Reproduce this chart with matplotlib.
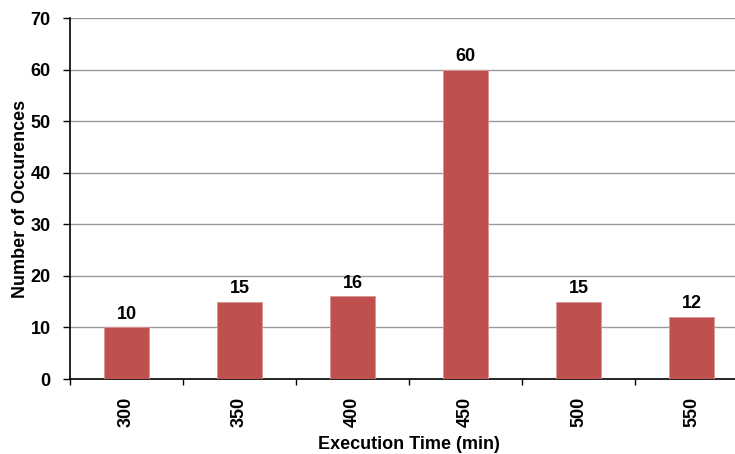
import matplotlib.pyplot as plt
import numpy as np

plt.rcParams['font.family'] = ['Liberation Sans', 'DejaVu Sans']
plt.rcParams['font.weight'] = 'bold'

# execution time histogram
times = ['300', '350', '400', '450', '500', '550']
counts = [10, 15, 16, 60, 15, 12]

fig = plt.figure(figsize=(7.35, 4.54), dpi=100)
# axes runs a little past the right edge of the figure
ax = fig.add_axes([70/735, 1 - 379/454, 678/735, 361/454])

x = np.arange(len(times))
bars = ax.bar(x, counts, width=0.4, color='#C0504D', edgecolor='#D99694',
              linewidth=0.6, zorder=3)
for b, v in zip(bars, counts):
    ax.text(b.get_x() + b.get_width()/2, v + 0.9, str(v), ha='center',
            va='bottom', fontsize=13, fontweight='bold')

ax.set_xlim(-0.5, len(times) - 0.5)
ax.set_ylim(0, 70)
ax.set_yticks(range(0, 71, 10))
ax.yaxis.grid(True, color='#999999', linewidth=1, zorder=0)
ax.set_axisbelow(True)

ax.set_xticks(x)
ax.set_xticklabels(times, rotation=90, fontsize=13, fontweight='bold')
ax.set_xticks(np.arange(-0.5, len(times), 1), minor=True)
ax.tick_params(axis='x', which='major', length=0, pad=13)
ax.tick_params(axis='x', which='minor', length=4, width=1, color='black')
ax.tick_params(axis='y', length=5, width=1, labelsize=13, pad=9)
for lab in ax.get_yticklabels():
    lab.set_fontweight('bold')

for s in ['top', 'right']:
    ax.spines[s].set_visible(False)
ax.spines['left'].set_linewidth(1.2)
ax.spines['bottom'].set_linewidth(1.2)

ax.set_xlabel('Execution Time (min)', fontsize=13, fontweight='bold', labelpad=6)
ax.set_ylabel('Number of Occurences', fontsize=13, fontweight='bold', labelpad=1)

fig.savefig('out.png', dpi=100)
